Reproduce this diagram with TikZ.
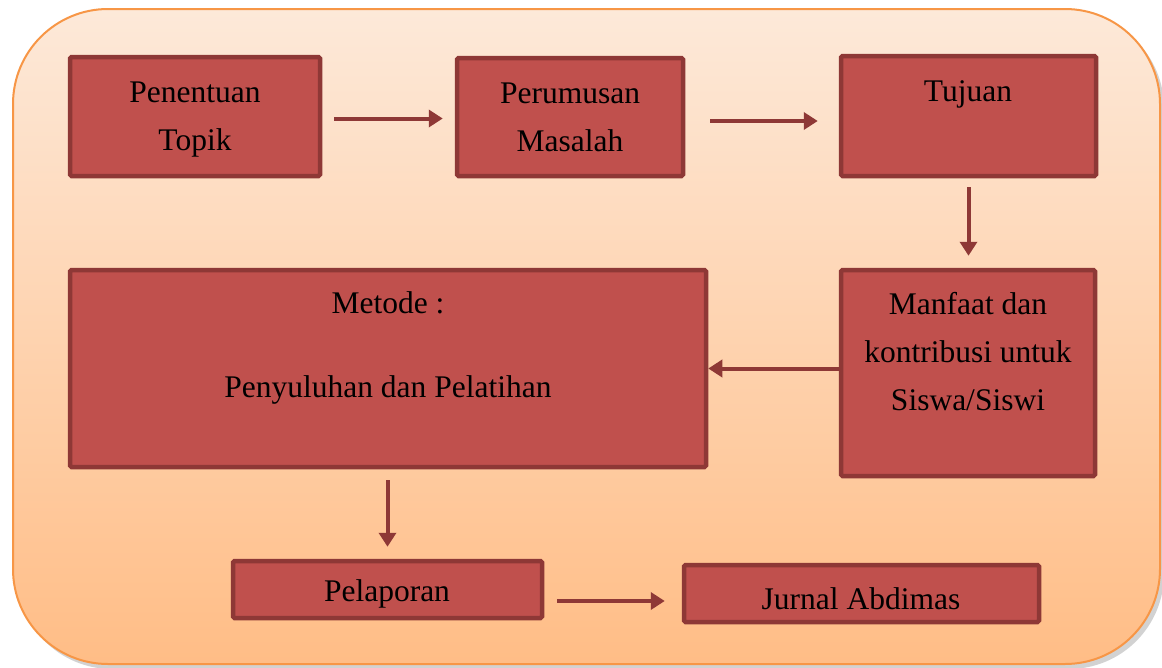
\documentclass[tikz,border=0pt]{standalone}
\usepackage{fontspec}
\setmainfont{Liberation Serif}
\usetikzlibrary{arrows.meta}
\definecolor{boxfill}{HTML}{C0504D}
\definecolor{boxline}{HTML}{8E3836}
\definecolor{arrowcol}{HTML}{8E3836}
\definecolor{bgtop}{HTML}{FDE9D9}
\definecolor{bgbot}{HTML}{FFBD86}
\definecolor{bgline}{HTML}{F79646}
\tikzset{
  box/.style={draw=boxline, line width=4.5pt, fill=boxfill, rounded corners=1.5pt, inner sep=0pt},
  txt/.style={font=\fontsize{31.5}{48}\selectfont, align=center, inner sep=0pt, text=black},
  arr/.style={draw=arrowcol, line width=4pt, -{Triangle[length=14pt,width=17pt]}}
}
\begin{document}
\begin{tikzpicture}[x=1pt,y=-1pt]
\useasboundingbox (0,0) rectangle (1162,667);
% background panel
\fill[black!35, opacity=0.5, rounded corners=95pt] (17,13) rectangle (1164,669);
\shade[top color=bgtop, bottom color=bgbot, draw=bgline, line width=2pt, rounded corners=95pt] (13,9) rectangle (1160,664);
% boxes
\node[box, minimum width=250pt, minimum height=119pt] (b1) at (195,116.5) {};
\node[box, minimum width=226pt, minimum height=118pt] (b2) at (570,117) {};
\node[box, minimum width=255pt, minimum height=120pt] (b3) at (968.5,116) {};
\node[box, minimum width=636pt, minimum height=197pt] (b4) at (388,368.5) {};
\node[box, minimum width=254pt, minimum height=206pt] (b5) at (968,373) {};
\node[box, minimum width=309pt, minimum height=57pt] (b6) at (387.5,589.5) {};
\node[box, minimum width=355pt, minimum height=57pt] (b7) at (861.5,593.5) {};
% texts
\node[txt] (t1) at (195,120) {Penentuan\\Topik};
\node[txt] (t2) at (570,117) {Perumusan\\Masalah};
\node[txt] (t3) at (968,94) {Tujuan};
\node[txt] (t4) at (388,348) {Metode :\\[36pt]Penyuluhan dan Pelatihan};
\node[txt] (t5) at (968,352) {Manfaat dan\\kontribusi untuk\\Siswa/Siswi};
\node[txt] (t6) at (387,594) {Pelaporan};
\node[txt] (t7) at (861,599) {Jurnal Abdimas};
% connectors
\draw[arr, shorten <=12pt, shorten >=12pt] ([yshift=-2pt]b1.east) -- ([yshift=-2pt]b1.east -| b2.west);
\draw[arr, shorten <=25pt, shorten >=21pt] ([yshift=-4pt]b2.east) -- ([yshift=-4pt]b2.east -| b3.west);
\draw[arr, shorten <=9pt, shorten >=12pt] (b3.south) -- (b3.south |- b5.north);
\draw[arr] (b4.east -| b5.west) -- (b4.east);
\draw[arr, shorten <=11pt, shorten >=12pt] (b4.south -| b6.north) -- (b6.north);
\draw[arr, shorten <=13pt, shorten >=17pt] ([yshift=-11.5pt]b6.east) -- ([yshift=-11.5pt]b6.east -| b7.west);
\end{tikzpicture}
\end{document}
